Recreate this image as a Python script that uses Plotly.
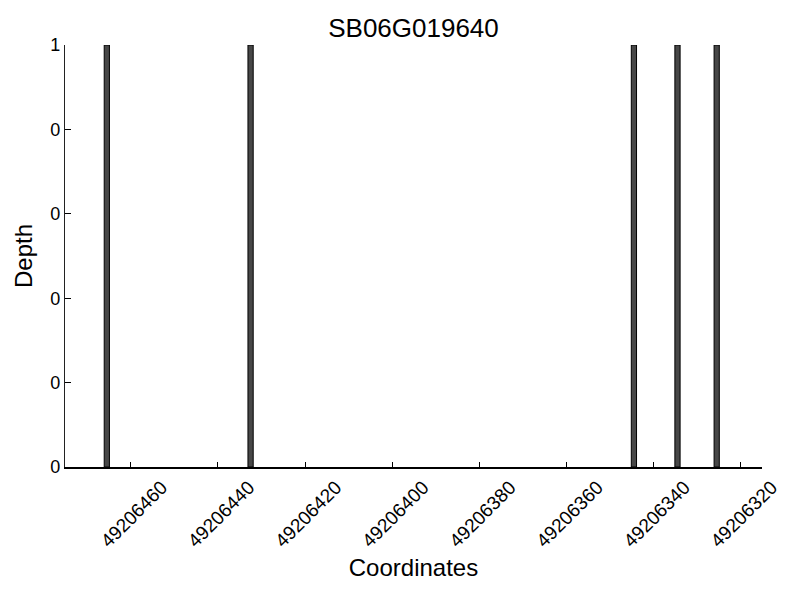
import plotly.graph_objects as go

coords = [49206465.5, 49206432.5, 49206344.5, 49206334.5, 49206325.5]
depth = [1, 1, 1, 1, 1]
x_ticks = [49206460, 49206440, 49206420, 49206400, 49206380, 49206360, 49206340, 49206320]
y_ticks = [0, 0.2, 0.4, 0.6, 0.8, 1.0]
y_tick_labels = ["0", "0", "0", "0", "0", "1"]

fig = go.Figure(go.Bar(
    x=coords, y=depth, width=1.2,
    marker=dict(color="#474747", line=dict(color="black", width=1)),
))

font = "Liberation Sans, Arial, sans-serif"
fig.update_layout(
    width=800, height=600,
    paper_bgcolor="white", plot_bgcolor="white",
    margin=dict(l=57, r=46, t=37, b=141, autoexpand=False),
    title=dict(text="SB06G019640", xref="paper", x=0.5, xanchor="center",
               yref="container", y=1 - 20 / 600, yanchor="middle",
               font=dict(family=font, size=26, color="black")),
    showlegend=False,
    font=dict(family=font, color="black"),
)
fig.update_xaxes(
    range=[49206475.1, 49206315.1], tickvals=x_ticks, ticktext=[str(v) for v in x_ticks],
    tickangle=-45, ticks="inside", ticklen=5, tickcolor="black", ticklabelshift=-31,
    showline=True, linecolor="black", linewidth=1.5, showgrid=False, zeroline=False,
    automargin=False,
    tickfont=dict(size=19), title=dict(text="Coordinates", font=dict(size=24), standoff=9),
)
fig.update_yaxes(
    range=[0, 1], tickvals=y_ticks, ticktext=y_tick_labels,
    ticks="inside", ticklen=6, tickcolor="black",
    showline=True, linecolor="#222", linewidth=1.2, showgrid=False, zeroline=False,
    automargin=False,
    tickfont=dict(size=18), title=dict(text="Depth", font=dict(size=24), standoff=10),
)
fig.write_html("out.html")
